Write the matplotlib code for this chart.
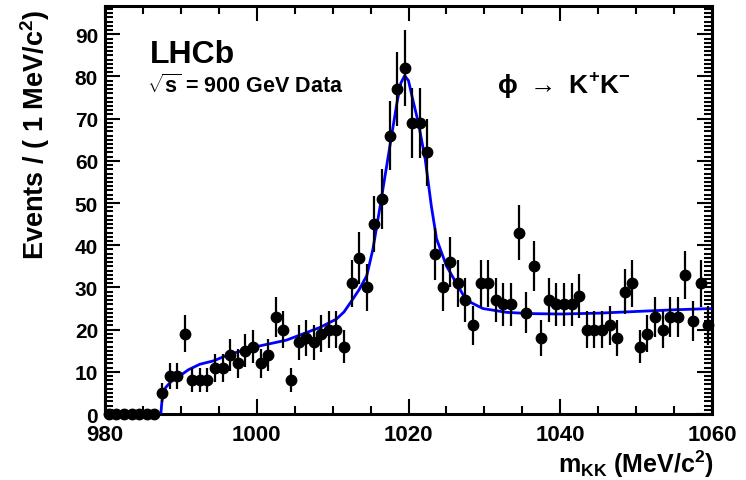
import matplotlib
matplotlib.use("Agg")
import matplotlib.pyplot as plt
from matplotlib.ticker import MultipleLocator
import numpy as np

plt.rcParams['font.family'] = ['Liberation Sans', 'DejaVu Sans']
plt.rcParams['font.weight'] = 'bold'
plt.rcParams['mathtext.fontset'] = 'custom'
plt.rcParams['mathtext.rm'] = 'Liberation Sans:bold'
plt.rcParams['mathtext.bf'] = 'Liberation Sans:bold'

# bin centres (1 MeV bins, 980 - 1060) and counts
mass = np.arange(980.5, 1060, 1.0)
counts = [0, 0, 0, 0, 0, 0, 0,                       # 980.5 - 986.5
          5, 9, 9, 19, 8, 8, 8, 11, 11, 14,          # 987.5 - 996.5
          12, 15, 16, 12, 14, 23, 20, 8, 17, 18,     # 997.5 - 1006.5
          17, 19, 20, 20, 16, 31, 37, 30, 45, 51,    # 1007.5 - 1016.5
          66, 77, 82, 69, 69, 62, 38, 30, 36, 31,    # 1017.5 - 1026.5
          27, 21, 31, 31, 27, 26, 26, 43, 24, 35,    # 1027.5 - 1036.5
          18, 27, 26, 26, 26, 28, 20, 20, 20, 21,    # 1037.5 - 1046.5
          18, 29, 31, 16, 19, 23, 20, 23, 23, 33,    # 1047.5 - 1056.5
          22, 31, 21]                                # 1057.5 - 1059.5

# fit curve
fit_m = [980, 987.35, 987.5, 987.7, 988.0, 988.6, 989.2, 989.9, 991.0, 992.5,
         994.3, 996.2, 999.5, 1003.9, 1008.3, 1010.5, 1011.5, 1012.5, 1013.5,
         1014.5, 1015.3, 1016.2, 1017.5, 1018.5, 1019.0, 1019.5, 1020.0, 1020.5,
         1021.3, 1022.2, 1023.0, 1023.7, 1025.0, 1026.5, 1027.6, 1029.8, 1032.9,
         1036, 1040, 1045, 1050, 1055, 1060]
fit_v = [0, 0, 3.0, 5.1, 6.3, 7.5, 8.4, 9.1, 10.5, 11.8,
         12.6, 14.0, 15.8, 17.5, 20.5, 22.5, 24.2, 26.8, 29.5,
         32.8, 39.0, 48.6, 63.0, 74.0, 78.5, 80.2, 79.0, 75.0,
         69.0, 60.4, 49.4, 41.5, 35.1, 30.4, 27.0, 25.0, 24.1,
         23.8, 23.7, 23.9, 24.3, 24.7, 25.0]

counts = np.array(counts, dtype=float)
errors = np.sqrt(counts)

fig = plt.figure(figsize=(7.46, 4.81), dpi=100)
ax = fig.add_axes([0.1408, 0.1372, 0.8136, 0.8482])

ax.plot(fit_m, fit_v, color='#0000ff', lw=2.0, zorder=3)
ax.errorbar(mass, counts, yerr=errors, fmt='o', color='black', ms=7.5,
            elinewidth=1.6, capsize=0, zorder=4, clip_on=False)

ax.set_xlim(980, 1060)
ax.set_ylim(0, 96.7)
ax.set_xticks([980, 1000, 1020, 1040, 1060])
ax.set_yticks(range(0, 100, 10))
ax.xaxis.set_minor_locator(MultipleLocator(5))
ax.yaxis.set_minor_locator(MultipleLocator(1))
ax.tick_params(which='both', direction='in', top=True, right=True, width=1.5)
ax.tick_params(which='major', length=11)
ax.tick_params(which='minor', length=5.5)
ax.tick_params(axis='x', which='major', labelsize=16, pad=7)
ax.tick_params(axis='y', which='major', labelsize=15, pad=5)
for s in ax.spines.values():
    s.set_linewidth(2.2)

ax.text(0.074, 0.863, 'LHCb', transform=ax.transAxes, fontsize=23,
        ha='left', va='baseline')
ax.text(0.069, 0.789, r'$\sqrt{\mathregular{s}}$ = 900 GeV Data',
        transform=ax.transAxes, fontsize=15.5, ha='left', va='baseline')
ax.text(0.646, 0.789, r'$\mathregular{\phi}$ $\rightarrow$ K$^{\mathregular{+}}$K$^{\mathregular{-}}$',
        transform=ax.transAxes, fontsize=19, ha='left', va='baseline')

fig.text(0.047, 0.979, r'Events / ( 1 MeV/c$^{\mathregular{2}}$)', rotation=90,
         fontsize=19.5, ha='center', va='top')
fig.text(0.957, 0.016, r'm$_{\mathregular{KK}}$ (MeV/c$^{\mathregular{2}}$)',
         fontsize=18, ha='right', va='baseline')

fig.savefig('out.png', dpi=100)
